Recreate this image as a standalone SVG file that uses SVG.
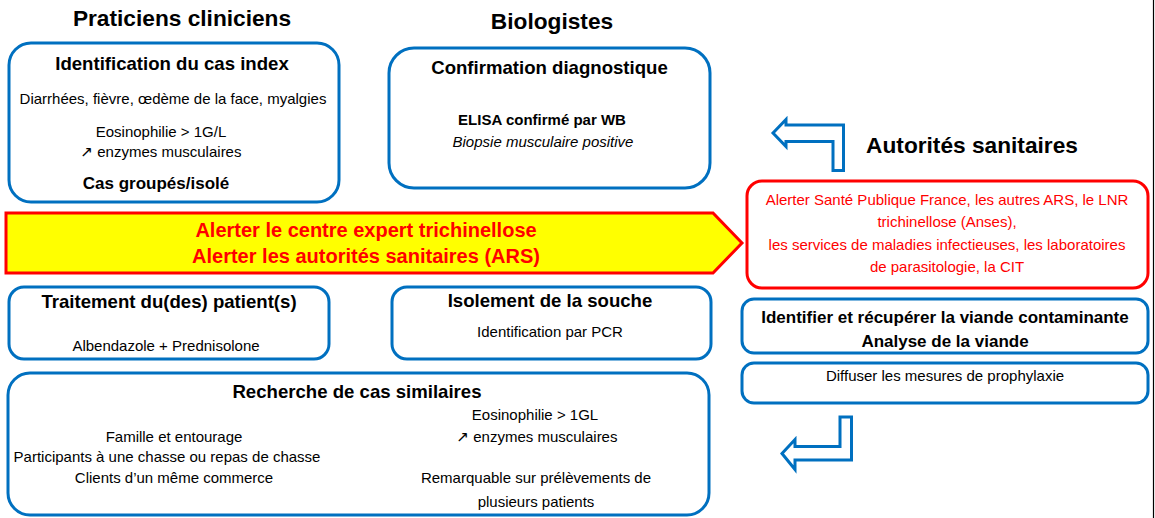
<svg xmlns="http://www.w3.org/2000/svg" width="1155" height="518" viewBox="0 0 1155 518">
<style>
text{font-family:"Liberation Sans",Arial,"DejaVu Sans",sans-serif;text-anchor:middle;fill:#000}
.h{font-size:22.7px;font-weight:bold}
.t{font-size:18.6px;font-weight:bold}
.b{font-size:15px}
.bb{font-size:15px;font-weight:bold}
.it{font-size:15px;font-style:italic}
.box{fill:#fff;stroke:#0070C0;stroke-width:3}
.red{fill:#fff;stroke:#FF0000;stroke-width:3}
.rt{fill:#FF0000}
.conn{fill:#fff;stroke:#0070C0;stroke-width:3;stroke-linejoin:miter}
</style>
<rect x="0" y="0" width="1155" height="518" fill="#fff"/>
<line x1="1153.5" y1="0" x2="1153.5" y2="518" stroke="#000" stroke-width="1.2"/>

<g id="headings">
<text class="h" x="182" y="26">Praticiens cliniciens</text>
<text class="h" x="552" y="29">Biologistes</text>
<text class="h" x="972" y="153">Autorités sanitaires</text>
</g>

<g id="node-identification">
<rect class="box" x="9" y="43" width="330" height="159" rx="22"/>
<text class="t" x="172" y="70">Identification du cas index</text>
<text class="b" x="173" y="104">Diarrhées, fièvre, œdème de la face, myalgies</text>
<text class="b" x="161" y="137">Eosinophilie &gt; 1G/L</text>
<text class="b" x="161" y="157">↗ enzymes musculaires</text>
<text class="bb" x="156" y="189" style="font-size:17px">Cas groupés/isolé</text>
</g>

<g id="node-confirmation">
<rect class="box" x="389" y="48" width="321" height="140" rx="25"/>
<text class="t" x="549.5" y="74">Confirmation diagnostique</text>
<text class="bb" x="542" y="125">ELISA confirmé par WB</text>
<text class="it" x="543" y="147">Biopsie musculaire positive</text>
</g>

<g id="node-alerte">
<polygon points="6,213 713,213 742,243 713,273 6,273" fill="#FFFF00" stroke="#FF0000" stroke-width="3"/>
<text class="rt" x="366" y="237" style="font-size:20px;font-weight:bold">Alerter le centre expert trichinellose</text>
<text class="rt" x="366" y="263" style="font-size:20px;font-weight:bold">Alerter les autorités sanitaires (ARS)</text>
</g>

<g id="node-autorites">
<rect class="red" x="747" y="181" width="401" height="107" rx="15"/>
<text class="b rt" x="947" y="205">Alerter Santé Publique France, les autres ARS, le LNR</text>
<text class="b rt" x="947" y="227">trichinellose (Anses),</text>
<text class="b rt" x="947" y="250">les services de maladies infectieuses, les laboratoires</text>
<text class="b rt" x="947" y="272">de parasitologie, la CIT</text>
</g>

<g id="node-traitement">
<rect class="box" x="9" y="287" width="320" height="72" rx="15"/>
<text class="t" x="169" y="308">Traitement du(des) patient(s)</text>
<text class="b" x="166" y="351">Albendazole + Prednisolone</text>
</g>

<g id="node-isolement">
<rect class="box" x="392" y="287" width="319" height="72" rx="15"/>
<text class="t" x="550" y="307">Isolement de la souche</text>
<text class="b" x="550" y="337">Identification par PCR</text>
</g>

<g id="node-viande">
<rect class="box" x="742" y="299" width="406" height="54" rx="12"/>
<text class="bb" x="945" y="323" style="font-size:17px">Identifier et récupérer la viande contaminante</text>
<text class="bb" x="945" y="347" style="font-size:17px">Analyse de la viande</text>
</g>

<g id="node-prophylaxie">
<rect class="box" x="742" y="363" width="406" height="40" rx="12"/>
<text class="b" x="945" y="381">Diffuser les mesures de prophylaxie</text>
</g>

<g id="node-recherche">
<rect class="box" x="8" y="373" width="701" height="142" rx="22"/>
<text class="t" x="357" y="398">Recherche de cas similaires</text>
<text class="b" x="174" y="442">Famille et entourage</text>
<text class="b" x="167" y="462">Participants à une chasse ou repas de chasse</text>
<text class="b" x="174" y="483">Clients d’un même commerce</text>
<text class="b" x="535" y="420">Eosinophilie &gt; 1GL</text>
<text class="b" x="537" y="442">↗ enzymes musculaires</text>
<text class="b" x="536" y="483">Remarquable sur prélèvements de</text>
<text class="b" x="536" y="507">plusieurs patients</text>
</g>

<g id="connectors">
<polygon class="conn" points="773,133 786,119.5 786,125 843.5,125 843.5,170.5 833,170.5 833,141.5 786,141.5 786,146.5"/>
<polygon class="conn" points="782,453.5 795,439.5 795,446.5 840,446.5 840,417 851.5,417 851.5,460 795,460 795,469.5"/>
</g>
</svg>
